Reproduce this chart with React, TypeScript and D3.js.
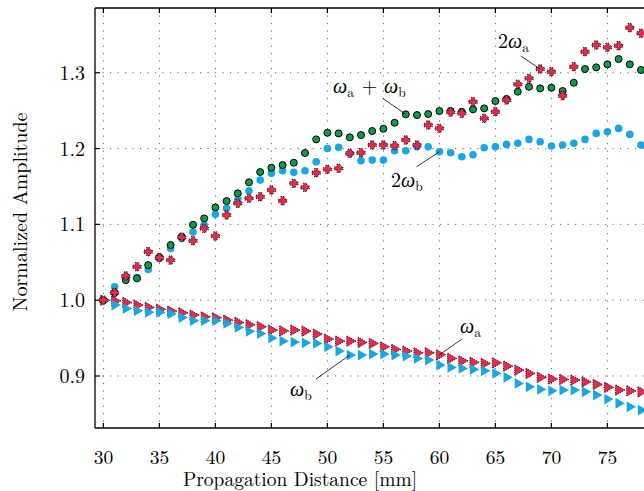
import React from "react";
import * as d3 from "d3";

const distance = [30,31,32,33,34,35,36,37,38,39,40,41,42,43,44,45,46,47,48,49,50,51,52,53,54,55,56,57,58,59,60,61,62,63,64,65,66,67,68,69,70,71,72,73,74,75,76,77,78];

const omegaA = [1.000,0.999,0.997,0.9935,0.9905,0.988,0.9856,0.9834,0.9804,0.978,0.9768,0.9737,0.9707,0.9676,0.965,0.9606,0.9596,0.9606,0.9592,0.9553,0.9487,0.946,0.946,0.9443,0.943,0.9385,0.935,0.9329,0.9306,0.9306,0.928,0.9232,0.920,0.918,0.9166,0.9174,0.913,0.9078,0.9034,0.8982,0.896,0.8955,0.8946,0.8924,0.8889,0.885,0.8814,0.8805,0.8792];

const omegaB = [1.000,0.9935,0.989,0.986,0.984,0.984,0.982,0.977,0.973,0.973,0.973,0.9694,0.964,0.959,0.956,0.950,0.946,0.9447,0.9438,0.943,0.9385,0.9329,0.9276,0.9276,0.929,0.929,0.9276,0.9263,0.9232,0.921,0.9144,0.9113,0.910,0.9087,0.9069,0.9034,0.8982,0.8902,0.8858,0.8823,0.8805,0.8814,0.8814,0.8792,0.8748,0.8695,0.8639,0.8594,0.855];

const twoOmegaA = [1.000,1.010,1.0318,1.0441,1.0639,1.056,1.0529,1.083,1.0784,1.0947,1.0846,1.1123,1.1277,1.1343,1.1364,1.1453,1.1311,1.1541,1.1488,1.1681,1.1726,1.1739,1.1937,1.1945,1.2046,1.2046,1.2037,1.2112,1.2046,1.231,1.2266,1.248,1.2464,1.2617,1.2398,1.2485,1.264,1.2847,1.2926,1.3049,1.3013,1.2697,1.3079,1.3277,1.3365,1.3335,1.3356,1.3594,1.352];

const twoOmegaB = [1.000,1.0177,1.0309,1.030,1.0406,1.0551,1.0683,1.0815,1.0898,1.099,1.1132,1.1211,1.133,1.1443,1.1584,1.1673,1.1707,1.1686,1.1707,1.1826,1.200,1.2016,1.1937,1.1839,1.1848,1.1848,1.1971,1.1971,1.2024,1.2024,1.1958,1.1945,1.1892,1.1918,1.2011,1.2024,1.2055,1.2069,1.2121,1.209,1.2033,1.2046,1.2069,1.2121,1.220,1.2222,1.2266,1.2187,1.2046];

const sumOmega = [1.000,1.0098,1.0265,1.0288,1.0463,1.0565,1.0727,1.0837,1.0995,1.1079,1.1224,1.1307,1.1409,1.1554,1.169,1.1747,1.1782,1.1813,1.1941,1.2121,1.2208,1.220,1.2148,1.2178,1.2231,1.2261,1.234,1.2451,1.2442,1.2455,1.2495,1.2495,1.2485,1.2517,1.253,1.2627,1.2653,1.275,1.2815,1.2794,1.2802,1.2759,1.2868,1.3049,1.3071,1.3111,1.3181,1.3111,1.3036];

const xTicks = [30,35,40,45,50,55,60,65,70,75,80];
const yTicks = [0.9,1.0,1.1,1.2,1.3];
const yTickLabels = ["0.9","1.0","1.1","1.2","1.3"];

const RED = "#e8284c";
const BLUE = "#17a7e1";
const GREEN = "#0d9a4a";

const W = 644, H = 491;
const left = 95, top = 8, bottom = 428;
const x = d3.scaleLinear().domain([29.25, 80.75]).range([left, left + 51.5 * 11.2]);
const y = d3.scaleLinear().domain([0.8314, 1.3854]).range([bottom, top]);
const right = x(80.75);

const FONT = "'Latin Modern Roman','CMU Serif','Liberation Serif','Times New Roman',serif";
const FS = 20;

function Omega({ sub }: { sub: string }) {
  return (
    <>
      <tspan fontStyle="italic">ω</tspan>
      <tspan fontSize={13.5} dy={4}>{sub}</tspan>
      <tspan dy={-4}>{"\u200A"}</tspan>
    </>
  );
}

type Ann = { series: number[]; idx: number; lx: number; ly: number; tx: number; ty: number; kind: string };
const annotations: Ann[] = [
  { series: sumOmega, idx: 27, lx: 382.7, ly: 98.3, tx: 333, ty: 93, kind: "sum" },
  { series: twoOmegaA, idx: 39, lx: 520.7, ly: 56, tx: 498, ty: 48, kind: "2a" },
  { series: twoOmegaB, idx: 30, lx: 416.7, ly: 166.7, tx: 391, ty: 187, kind: "2b" },
  { series: omegaA, idx: 30, lx: 461.7, ly: 339.3, tx: 460, ty: 333, kind: "a" },
  { series: omegaB, idx: 22, lx: 316, ly: 379, tx: 290, ty: 396, kind: "b" },
];

function label(kind: string) {
  if (kind === "sum") return (<><Omega sub="a" /><tspan>{" + "}</tspan><Omega sub="b" /></>);
  if (kind === "2a") return (<><tspan>2</tspan><Omega sub="a" /></>);
  if (kind === "2b") return (<><tspan>2</tspan><Omega sub="b" /></>);
  if (kind === "a") return <Omega sub="a" />;
  return <Omega sub="b" />;
}

const triPath = d3.symbol(d3.symbolTriangle, 50)();
const plusPath = "M-1.7,-4.2H1.7V-1.7H4.2V1.7H1.7V4.2H-1.7V1.7H-4.2V-1.7H-1.7Z";

export default function App() {
  return (
    <svg width={W} height={H} style={{ position: "absolute", left: 0, top: 0, background: "#fff" }} fontFamily={FONT}>
      <defs>
        <clipPath id="clip"><rect x={left} y={top} width={right - left} height={bottom - top} /></clipPath>
      </defs>
      {xTicks.map((t) => (
        <line key={"gx" + t} x1={x(t)} x2={x(t)} y1={top} y2={bottom} stroke="#666" strokeWidth={1} strokeDasharray="1.2 6.3" />
      ))}
      {yTicks.map((t) => (
        <line key={"gy" + t} x1={left} x2={right} y1={y(t)} y2={y(t)} stroke="#666" strokeWidth={1} strokeDasharray="1.2 6.3" />
      ))}
      <line x1={left} x2={left} y1={top} y2={bottom} stroke="#000" strokeWidth={1.3} />
      <line x1={left} x2={right} y1={bottom} y2={bottom} stroke="#000" strokeWidth={1.3} />
      <line x1={left} x2={right} y1={top} y2={top} stroke="#000" strokeWidth={1.3} />
      {xTicks.map((t) => (
        <g key={"xt" + t}>
          <line x1={x(t)} x2={x(t)} y1={bottom} y2={bottom - 5} stroke="#000" strokeWidth={1.2} />
          <line x1={x(t)} x2={x(t)} y1={top} y2={top + 5} stroke="#000" strokeWidth={1.2} />
          {x(t) + 12 < W ? <text x={x(t)} y={464} textAnchor="middle" fontSize={19.5}>{t}</text> : null}
        </g>
      ))}
      {yTicks.map((t, i) => (
        <g key={"yt" + t}>
          <line x1={left} x2={left + 5} y1={y(t)} y2={y(t)} stroke="#000" strokeWidth={1.2} />
          <text x={85} y={y(t)} dy="0.35em" textAnchor="end" fontSize={FS}>{yTickLabels[i]}</text>
        </g>
      ))}
      <text x={300} y={486.3} textAnchor="middle" fontSize={19.5}>Propagation Distance [mm]</text>
      <text transform={`translate(27,${212}) rotate(-90)`} textAnchor="middle" fontSize={FS}>Normalized Amplitude</text>

      <g clipPath="url(#clip)">
        {omegaA.map((v, i) => (
          <path key={"a" + i} d={triPath!} transform={`translate(${x(distance[i])},${y(v)}) rotate(90)`} fill={RED} stroke="#000" strokeWidth={0.9} strokeDasharray="1 1.2" />
        ))}
        {omegaB.map((v, i) => (
          <path key={"b" + i} d={triPath!} transform={`translate(${x(distance[i])},${y(v)}) rotate(90)`} fill={BLUE} />
        ))}
        {twoOmegaB.map((v, i) => (
          <circle key={"c" + i} cx={x(distance[i])} cy={y(v)} r={3.8} fill={BLUE} />
        ))}
        {sumOmega.map((v, i) => (
          <circle key={"s" + i} cx={x(distance[i])} cy={y(v)} r={3.5} fill={GREEN} stroke="#000" strokeWidth={1} />
        ))}
        {twoOmegaA.map((v, i) => (
          <path key={"p" + i} d={plusPath} transform={`translate(${x(distance[i])},${y(v)})`} fill={RED} stroke="#000" strokeWidth={0.9} strokeDasharray="1 1.2" />
        ))}
      </g>

      {annotations.map((a, i) => (
        <g key={"ann" + i}>
          <line x1={a.lx} y1={a.ly} x2={x(distance[a.idx])} y2={y(a.series[a.idx])} stroke="#000" strokeWidth={0.8} />
          <text x={a.tx} y={a.ty} fontSize={FS}>{label(a.kind)}</text>
        </g>
      ))}
    </svg>
  );
}
